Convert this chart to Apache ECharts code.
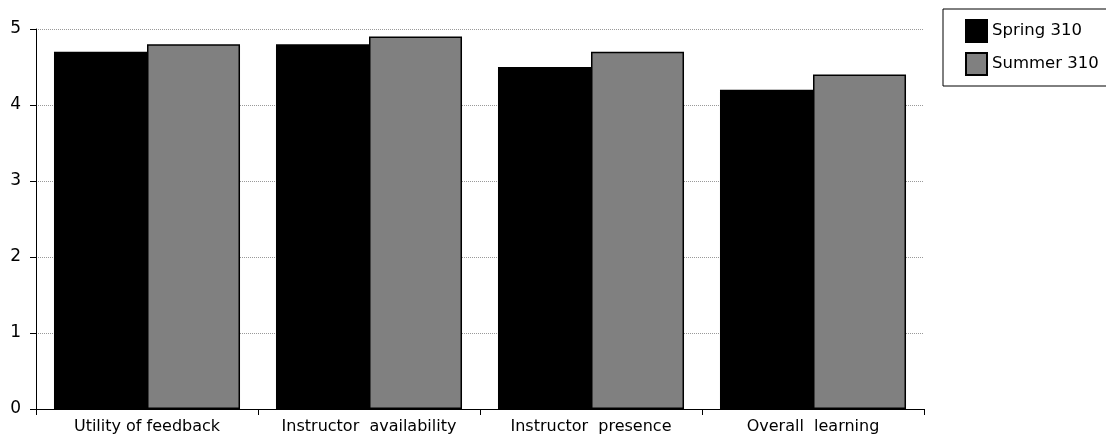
<!DOCTYPE html>
<html>
<head>
<meta charset="utf-8">
<script src="https://cdn.jsdelivr.net/npm/echarts@6/dist/echarts.min.js"></script>
<style>
html,body{margin:0;padding:0;background:#fff;}
#chart{width:1106px;height:438px;}
</style>
</head>
<body>
<div id="chart"></div>
<script>
const categories = ["Utility of feedback", "Instructor  availability", "Instructor  presence", "Overall  learning"];
const spring310 = [4.7, 4.8, 4.5, 4.2];
const summer310 = [4.8, 4.9, 4.7, 4.4];
const seriesNames = ["Spring 310", "Summer 310"];
const yTicks = [0, 1, 2, 3, 4, 5];

const FONT = "DejaVu Sans";
const chart = echarts.init(document.getElementById('chart'), null, {renderer: 'canvas'});
chart.setOption({
  animation: false,
  backgroundColor: '#fff',
  textStyle: {fontFamily: FONT, color: '#000'},
  grid: {left: 36, right: 182, top: 29, bottom: 29, containLabel: false},
  legend: {
    orient: 'vertical',
    left: 943, top: 9,
    padding: [10, 20, 10, 22],
    itemGap: 9,
    itemWidth: 21, itemHeight: 22,
    borderColor: '#000', borderWidth: 1,
    textStyle: {fontFamily: FONT, fontSize: 16.5, color: '#000'},
    data: seriesNames,
    icon: 'rect'
  },
  xAxis: {
    type: 'category',
    data: categories,
    axisLine: {lineStyle: {color: '#000', width: 1}},
    axisTick: {show: true, length: 6, lineStyle: {color: '#000'}},
    axisLabel: {interval: 0, margin: 10, fontFamily: FONT, fontSize: 16, color: '#000'}
  },
  yAxis: {
    type: 'value',
    min: yTicks[0], max: yTicks[yTicks.length - 1], interval: 1,
    axisLine: {show: true, lineStyle: {color: '#000', width: 1}},
    axisTick: {show: true, length: 6, lineStyle: {color: '#000'}},
    axisLabel: {margin: 15, fontFamily: FONT, fontSize: 17, color: '#000'},
    splitLine: {show: true, lineStyle: {color: '#999', type: [1, 1], width: 1}}
  },
  series: [
    {
      name: seriesNames[0], type: 'bar', data: spring310,
      barGap: '0%', barCategoryGap: '16.2%',
      itemStyle: {color: '#000', borderColor: '#000', borderWidth: 1.5}
    },
    {
      name: seriesNames[1], type: 'bar', data: summer310,
      barGap: '0%', barCategoryGap: '16.2%',
      itemStyle: {color: '#808080', borderColor: '#000', borderWidth: 1.5}
    }
  ]
});
</script>
</body>
</html>
